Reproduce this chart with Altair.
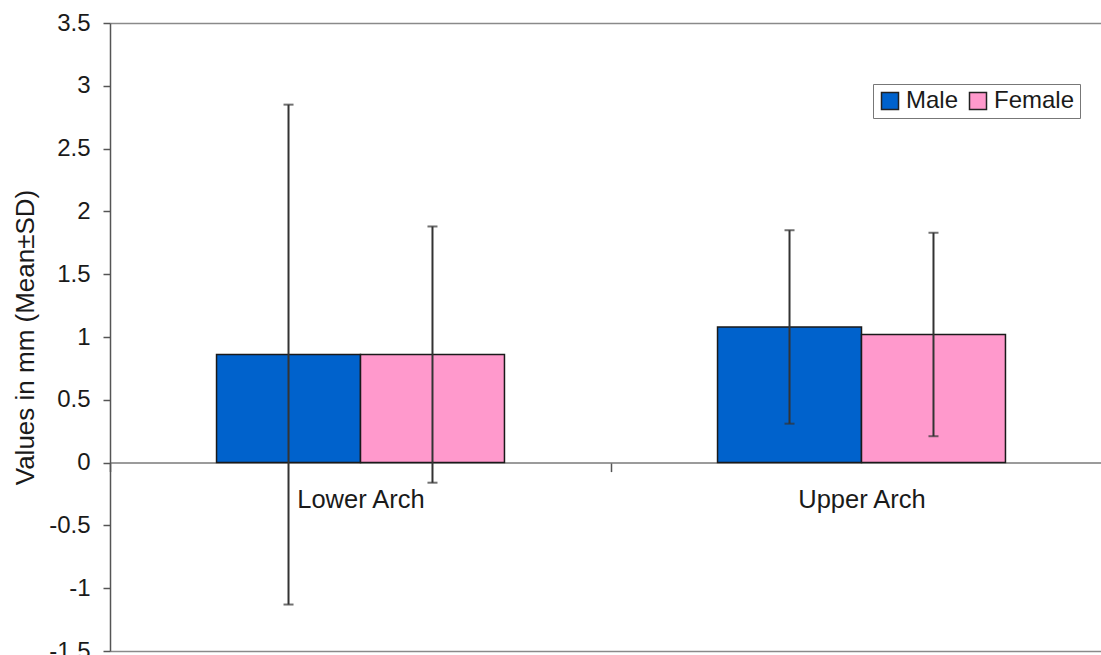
import altair as alt
import pandas as pd

# Mean and standard deviation (mm) of each arch, split by sex
arches = ["Lower Arch", "Upper Arch"]
sexes = ["Male", "Female"]
male_mean = [0.86, 1.08]
male_sd = [1.99, 0.77]
female_mean = [0.86, 1.02]
female_sd = [1.02, 0.81]

colors = ["#0062CC", "#FF99CC"]
y_ticks = [-1.5, -1, -0.5, 0, 0.5, 1, 1.5, 2, 2.5, 3, 3.5]
y_min, y_max = -1.5, 3.5

rows = []
for i, arch in enumerate(arches):
    for sex, means, sds in (("Male", male_mean, male_sd), ("Female", female_mean, female_sd)):
        m, s = means[i], sds[i]
        rows.append({"arch": arch, "sex": sex, "mean": m, "lo": m - s, "hi": m + s})
df = pd.DataFrame(rows)

FONT = "Liberation Sans"
PLOT_W = 991      # visible part of the plot area
FULL_W = 1002     # full category range (right edge runs past the page)
PLOT_H = 628

# bottom axis sits on the zero line
zero_offset = PLOT_H * (y_max - 0) / (y_max - y_min) - PLOT_H

# categories fill the whole range so the axis ticks fall between them;
# the bar pair is narrowed through the offset scale instead
x_enc = alt.X(
    "arch:N",
    sort=arches,
    scale=alt.Scale(range=[0, FULL_W], paddingInner=0, paddingOuter=0),
    axis=alt.Axis(
        title=None,
        labelAngle=0,
        tickBand="extent",
        offset=zero_offset,
        domainColor="#7a7a7a",
        domainWidth=1.5,
        tickColor="#555555",
        tickWidth=1.5,
        tickSize=9,
        labelFontSize=25.5,
        labelColor="#1a1a1a",
        labelPadding=16,
    ),
)
xoff_enc = alt.XOffset(
    "sex:N", sort=sexes, scale=alt.Scale(paddingInner=0, paddingOuter=0.74)
)

y_scale = alt.Scale(domain=[y_min, y_max], nice=False, zero=False)

bars = alt.Chart(df).mark_bar(stroke="#1a1a1a", strokeWidth=1.5).encode(
    x=x_enc,
    xOffset=xoff_enc,
    y=alt.Y(
        "mean:Q",
        scale=y_scale,
        axis=alt.Axis(
            title="Values in mm (Mean±SD)",
            values=y_ticks,
            labelExpr="toString(datum.value)",
            grid=True,
            gridColor="#8a8a8a",
            gridWidth=1.5,
            gridOpacity=alt.condition(
                "datum.value == 3.5 || datum.value == -1.5", alt.value(1), alt.value(0)
            ),
            domainColor="#555555",
            domainWidth=1.5,
            tickColor="#555555",
            tickWidth=1.5,
            tickSize=7,
            labelFontSize=24,
            labelColor="#1a1a1a",
            labelPadding=13,
            titleFontSize=26,
            titleFontWeight="normal",
            titleColor="#1a1a1a",
            titlePadding=10,
        ),
    ),
    color=alt.Color(
        "sex:N",
        sort=sexes,
        scale=alt.Scale(domain=sexes, range=colors),
        legend=alt.Legend(
            title=None,
            orient="none",
            legendX=763,
            legendY=61,
            direction="horizontal",
            symbolType="square",
            symbolSize=289,
            symbolStrokeColor="#222222",
            symbolStrokeWidth=1.5,
            symbolOpacity=1,
            labelFontSize=24,
            labelColor="#1a1a1a",
            labelOffset=4,
            columnPadding=7,
            padding=5,
            strokeColor="#777777",
            fillColor="white",
        ),
    ),
)

whiskers = alt.Chart(df).mark_rule(color="#333333", strokeWidth=2).encode(
    x=x_enc,
    xOffset=xoff_enc,
    y=alt.Y("lo:Q", scale=y_scale),
    y2="hi:Q",
)

cap_lo = alt.Chart(df).mark_tick(color="#333333", thickness=2, size=10).encode(
    x=x_enc, xOffset=xoff_enc, y=alt.Y("lo:Q", scale=y_scale)
)
cap_hi = alt.Chart(df).mark_tick(color="#333333", thickness=2, size=10).encode(
    x=x_enc, xOffset=xoff_enc, y=alt.Y("hi:Q", scale=y_scale)
)

chart = (
    alt.layer(bars, whiskers, cap_lo, cap_hi)
    .properties(
        width=PLOT_W,
        height=PLOT_H,
        autosize=alt.AutoSizeParams(type="none"),
        padding={"left": 110, "top": 23, "right": 0, "bottom": 4},
        background="white",
    )
    .configure(font=FONT)
    .configure_view(stroke=None)
)

chart.save("out.html", embed_options={"renderer": "svg", "actions": False})
